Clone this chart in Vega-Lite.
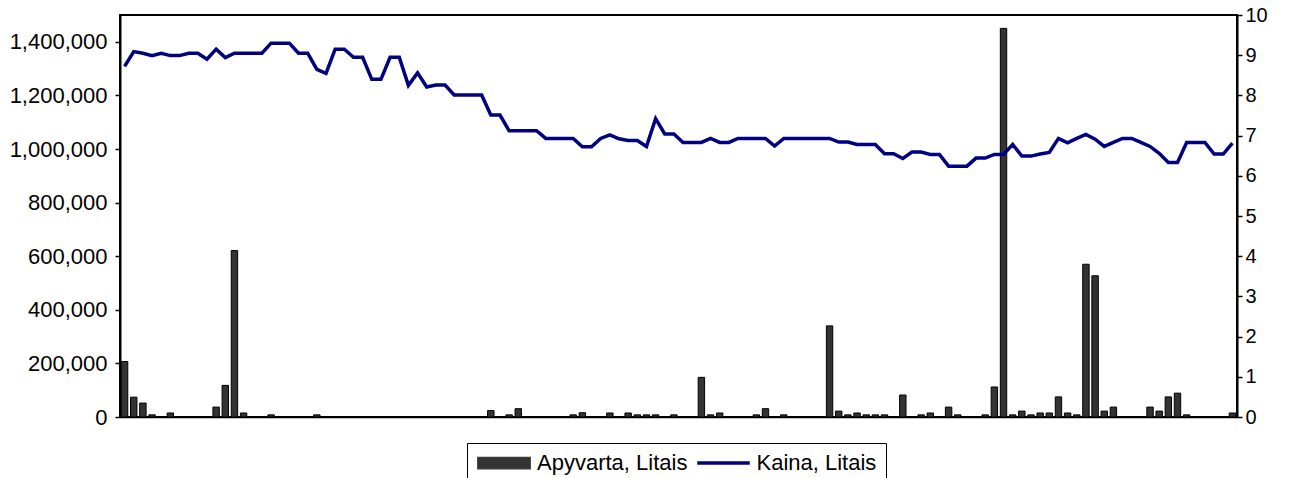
{
  "$schema": "https://vega.github.io/schema/vega-lite/v6.json",
  "width": 1117,
  "height": 402,
  "autosize": {"type": "none"},
  "padding": {"left": 120, "top": 15, "right": 54, "bottom": 61},
  "background": "white",
  "config": {
    "view": {"stroke": "black", "strokeWidth": 2},
    "font": "Liberation Sans",
    "axis": {"labelFont": "Liberation Sans", "labelColor": "black", "domainColor": "black", "tickColor": "black", "grid": false}
  },
  "data": {"values": [
    {"i":0,"t":207000,"p":8.72},{"i":1,"t":74000,"p":9.09},{"i":2,"t":52000,"p":9.05},{"i":3,"t":8000,"p":8.99},
    {"i":4,"t":0,"p":9.05},{"i":5,"t":15000,"p":8.99},{"i":6,"t":0,"p":8.99},{"i":7,"t":0,"p":9.05},
    {"i":8,"t":0,"p":9.05},{"i":9,"t":0,"p":8.9},{"i":10,"t":37000,"p":9.15},{"i":11,"t":118000,"p":8.94},
    {"i":12,"t":621000,"p":9.05},{"i":13,"t":15000,"p":9.05},{"i":14,"t":0,"p":9.05},{"i":15,"t":0,"p":9.05},
    {"i":16,"t":8000,"p":9.3},{"i":17,"t":0,"p":9.3},{"i":18,"t":0,"p":9.3},{"i":19,"t":0,"p":9.05},
    {"i":20,"t":0,"p":9.05},{"i":21,"t":8000,"p":8.65},{"i":22,"t":0,"p":8.55},{"i":23,"t":0,"p":9.15},
    {"i":24,"t":0,"p":9.15},{"i":25,"t":0,"p":8.95},{"i":26,"t":0,"p":8.95},{"i":27,"t":0,"p":8.4},
    {"i":28,"t":0,"p":8.4},{"i":29,"t":0,"p":8.95},{"i":30,"t":0,"p":8.95},{"i":31,"t":0,"p":8.25},
    {"i":32,"t":0,"p":8.56},{"i":33,"t":0,"p":8.21},{"i":34,"t":0,"p":8.26},{"i":35,"t":0,"p":8.26},
    {"i":36,"t":0,"p":8.01},{"i":37,"t":0,"p":8.01},{"i":38,"t":0,"p":8.01},{"i":39,"t":0,"p":8.01},
    {"i":40,"t":24000,"p":7.51},{"i":41,"t":0,"p":7.51},{"i":42,"t":8000,"p":7.12},{"i":43,"t":31000,"p":7.12},
    {"i":44,"t":0,"p":7.12},{"i":45,"t":0,"p":7.12},{"i":46,"t":0,"p":6.93},{"i":47,"t":0,"p":6.93},
    {"i":48,"t":0,"p":6.93},{"i":49,"t":8000,"p":6.93},{"i":50,"t":16000,"p":6.72},{"i":51,"t":0,"p":6.72},
    {"i":52,"t":0,"p":6.93},{"i":53,"t":15000,"p":7.02},{"i":54,"t":0,"p":6.92},{"i":55,"t":15000,"p":6.88},
    {"i":56,"t":8000,"p":6.88},{"i":57,"t":8000,"p":6.73},{"i":58,"t":8000,"p":7.42},{"i":59,"t":0,"p":7.04},
    {"i":60,"t":8000,"p":7.04},{"i":61,"t":0,"p":6.83},{"i":62,"t":0,"p":6.83},{"i":63,"t":148000,"p":6.83},
    {"i":64,"t":8000,"p":6.93},{"i":65,"t":15000,"p":6.83},{"i":66,"t":0,"p":6.83},{"i":67,"t":0,"p":6.93},
    {"i":68,"t":0,"p":6.93},{"i":69,"t":8000,"p":6.93},{"i":70,"t":31000,"p":6.93},{"i":71,"t":0,"p":6.74},
    {"i":72,"t":8000,"p":6.93},{"i":73,"t":0,"p":6.93},{"i":74,"t":0,"p":6.93},{"i":75,"t":0,"p":6.93},
    {"i":76,"t":0,"p":6.93},{"i":77,"t":340000,"p":6.93},{"i":78,"t":22000,"p":6.84},{"i":79,"t":8000,"p":6.84},
    {"i":80,"t":15000,"p":6.78},{"i":81,"t":8000,"p":6.78},{"i":82,"t":8000,"p":6.78},{"i":83,"t":8000,"p":6.55},
    {"i":84,"t":0,"p":6.55},{"i":85,"t":82000,"p":6.43},{"i":86,"t":0,"p":6.59},{"i":87,"t":8000,"p":6.59},
    {"i":88,"t":15000,"p":6.53},{"i":89,"t":0,"p":6.53},{"i":90,"t":37000,"p":6.24},{"i":91,"t":8000,"p":6.24},
    {"i":92,"t":0,"p":6.24},{"i":93,"t":0,"p":6.44},{"i":94,"t":8000,"p":6.44},{"i":95,"t":112000,"p":6.53},
    {"i":96,"t":1450000,"p":6.53},{"i":97,"t":8000,"p":6.78},{"i":98,"t":22000,"p":6.49},{"i":99,"t":8000,"p":6.49},
    {"i":100,"t":15000,"p":6.54},{"i":101,"t":15000,"p":6.58},{"i":102,"t":75000,"p":6.93},{"i":103,"t":15000,"p":6.82},
    {"i":104,"t":8000,"p":6.93},{"i":105,"t":570000,"p":7.03},{"i":106,"t":527000,"p":6.91},{"i":107,"t":22000,"p":6.73},
    {"i":108,"t":37000,"p":6.83},{"i":109,"t":0,"p":6.93},{"i":110,"t":0,"p":6.93},{"i":111,"t":0,"p":6.83},
    {"i":112,"t":37000,"p":6.73},{"i":113,"t":22000,"p":6.56},{"i":114,"t":75000,"p":6.33},{"i":115,"t":89000,"p":6.33},
    {"i":116,"t":8000,"p":6.83},{"i":117,"t":0,"p":6.83},{"i":118,"t":0,"p":6.83},{"i":119,"t":0,"p":6.54},
    {"i":120,"t":0,"p":6.54},{"i":121,"t":15000,"p":6.81}
  ]},
  "encoding": {
    "x": {"field": "i", "type": "ordinal", "sort": "ascending",
          "scale": {"type": "band", "paddingInner": 0.3, "paddingOuter": 0.15},
          "axis": {"title": null, "labels": false, "ticks": false, "domainWidth": 1.5}}
  },
  "layer": [
    {
      "mark": {"type": "bar", "fill": "#333333", "stroke": "black", "strokeWidth": 1},
      "encoding": {
        "y": {"field": "t", "type": "quantitative",
              "scale": {"domain": [0, 1500000], "nice": false},
              "axis": {"title": null, "values": [0,200000,400000,600000,800000,1000000,1200000,1400000], "format": ",d",
                       "labelFontSize": 22, "tickSize": 5, "tickWidth": 1.5, "domainWidth": 2, "labelPadding": 8}},
        "color": {"datum": "Apyvarta, Litais", "type": "nominal",
                  "scale": {"domain": ["Apyvarta, Litais", "Kaina, Litais"], "range": ["#333333", "#000080"]},
                  "legend": {
                    "title": null, "orient": "none", "legendX": 347, "legendY": 428, "direction": "horizontal",
                    "strokeColor": "black", "padding": 9, "symbolSize": 441, "symbolOffset": 17, "labelFontSize": 22,
                    "labelFont": "Liberation Sans", "labelColor": "black", "columnPadding": 1.5, "labelOffset": 22,
                    "symbolType": {"expr": "datum.value === 'Kaina, Litais' ? 'M-2.5,0H2.5' : 'M-2.5,-0.55H2.5V0.55H-2.5Z'"},
                    "symbolStrokeColor": {"expr": "datum.value === 'Kaina, Litais' ? '#000080' : '#000000'"},
                    "symbolStrokeWidth": {"expr": "datum.value === 'Kaina, Litais' ? 3.5 : 1.2"},
                    "symbolOpacity": 1
                  }}
      }
    },
    {
      "mark": {"type": "line", "color": "#000080", "strokeWidth": 3.5},
      "encoding": {
        "y": {"field": "p", "type": "quantitative",
              "scale": {"domain": [0, 10], "nice": false},
              "axis": {"title": null, "orient": "right", "values": [0,1,2,3,4,5,6,7,8,9,10],
                       "labelFontSize": 20, "tickSize": 5, "tickWidth": 1.5, "domainWidth": 2, "labelPadding": 3}},
        "color": {"datum": "Kaina, Litais", "type": "nominal"}
      }
    }
  ],
  "resolve": {"scale": {"y": "independent"}}
}
